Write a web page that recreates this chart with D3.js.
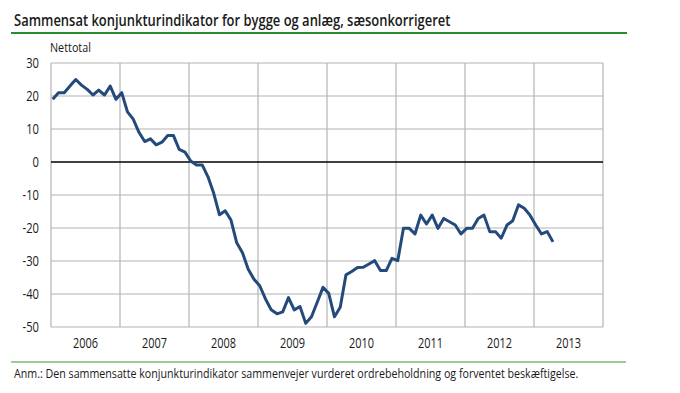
<!DOCTYPE html>
<html><head><meta charset="utf-8">
<script src="https://cdn.jsdelivr.net/npm/d3@7"></script>
<style>
body{margin:0;background:#fff;}
svg{display:block;}
text{font-family:"Open Sans","Noto Sans",sans-serif;fill:#1a1a1a;}
</style></head>
<body>
<svg id="c" width="680" height="393"></svg>
<script>
const title = "Sammensat konjunkturindikator for bygge og anlæg, sæsonkorrigeret";
const unitLabel = "Nettotal";
const note = "Anm.: Den sammensatte konjunkturindikator sammenvejer vurderet ordrebeholdning og forventet beskæftigelse.";
const startYear = 2006;
const yearLabels = ["2006","2007","2008","2009","2010","2011","2012","2013"];
const yTicks = [30,20,10,0,-10,-20,-30,-40,-50];
// monthly values Jan 2006 - Apr 2013
const values = [
  19,21,21,23,25,23.3,22,20.3,21.8,20.3,23,19,
  21,15.2,13,9,6.2,7,5.2,6,8,8,3.8,3,
  0.3,-0.9,-0.9,-4.5,-9.5,-16,-14.8,-17.6,-24.5,-27.5,-32.5,-35.5,
  -37.5,-41.5,-44.8,-46,-45.4,-41.1,-44.8,-43.8,-48.9,-46.9,-42.5,-38,
  -39.8,-46.9,-44,-34.2,-33.2,-32,-31.9,-30.9,-29.9,-32.9,-32.9,-29.2,
  -29.9,-20.1,-20.1,-21.8,-16.1,-18.8,-16.1,-20.1,-17.1,-18.1,-19.1,-21.8,
  -20.1,-20.1,-17.1,-16.1,-21.1,-21.1,-23.1,-19.1,-17.8,-13,-14,-16.1,
  -19.1,-21.8,-21.1,-24.2
];

const svg = d3.select("#c");
const m = {left:51, right:603, top:63, bottom:327};

const x = d3.scaleLinear().domain([2006, 2014]).range([m.left, m.right]);
const y = d3.scaleLinear().domain([-50, 30]).range([m.bottom, m.top]);

// text squeezed horizontally to a target width via a group transform
function squeezed(px, py, str, size, width, weight) {
  const g = svg.append("g");
  const tx = g.append("text").attr("x", 0).attr("y", 0).attr("font-size", size)
    .style("font-weight", weight || "normal").text(str);
  const w = tx.node().getComputedTextLength();
  g.attr("transform", `translate(${px},${py}) scale(${width / w},1)`);
  return g;
}
function condense(sel, k) {
  sel.each(function() {
    const w = this.getComputedTextLength();
    d3.select(this).attr("textLength", w * k).attr("lengthAdjust", "spacingAndGlyphs");
  });
}

// title
squeezed(14, 26, title, 16, 437, "600");
svg.append("line").attr("x1", 11).attr("x2", 627).attr("y1", 33).attr("y2", 33)
  .attr("stroke", "#2a8c2a").attr("stroke-width", 2);

// unit
squeezed(50, 52, unitLabel, 13, 41);

// horizontal grid
svg.append("g").selectAll("line").data(yTicks.filter(d => d !== 0)).join("line")
  .attr("x1", m.left).attr("x2", m.right)
  .attr("y1", d => y(d)).attr("y2", d => y(d))
  .attr("stroke", "#b4b4b4").attr("stroke-width", 1.2);

// vertical grid (year boundaries)
const yearBounds = d3.range(2006, 2015);
svg.append("g").selectAll("line").data(yearBounds).join("line")
  .attr("x1", d => x(d)).attr("x2", d => x(d))
  .attr("y1", m.top).attr("y2", m.bottom)
  .attr("stroke", "#b4b4b4").attr("stroke-width", 1.2);

// zero line
svg.append("line").attr("x1", m.left).attr("x2", m.right)
  .attr("y1", y(0)).attr("y2", y(0)).attr("stroke", "#000").attr("stroke-width", 1.6);

// y labels
const yl = svg.append("g").selectAll("text").data(yTicks).join("text")
  .attr("x", 39).attr("y", d => y(d) + 5).attr("text-anchor", "end")
  .attr("font-size", 14).text(d => d);
condense(yl, 0.8);

// x labels
const xl = svg.append("g").selectAll("text").data(yearLabels).join("text")
  .attr("x", d => x(+d + 0.5)).attr("y", 348).attr("text-anchor", "middle")
  .attr("font-size", 14).text(d => d);
condense(xl, 0.78);

// line
const line = d3.line()
  .x((d, i) => x(startYear + (i + 0.3) / 12))
  .y(d => y(d));
svg.append("path").datum(values).attr("d", line)
  .attr("fill", "none").attr("stroke", "#244a7c").attr("stroke-width", 3)
  .attr("stroke-linejoin", "round");

// footnote
svg.append("line").attr("x1", 11).attr("x2", 626).attr("y1", 362).attr("y2", 362)
  .attr("stroke", "#7dbd6c").attr("stroke-width", 1.6);
squeezed(14, 378, note, 13.5, 565);
</script>
</body></html>
